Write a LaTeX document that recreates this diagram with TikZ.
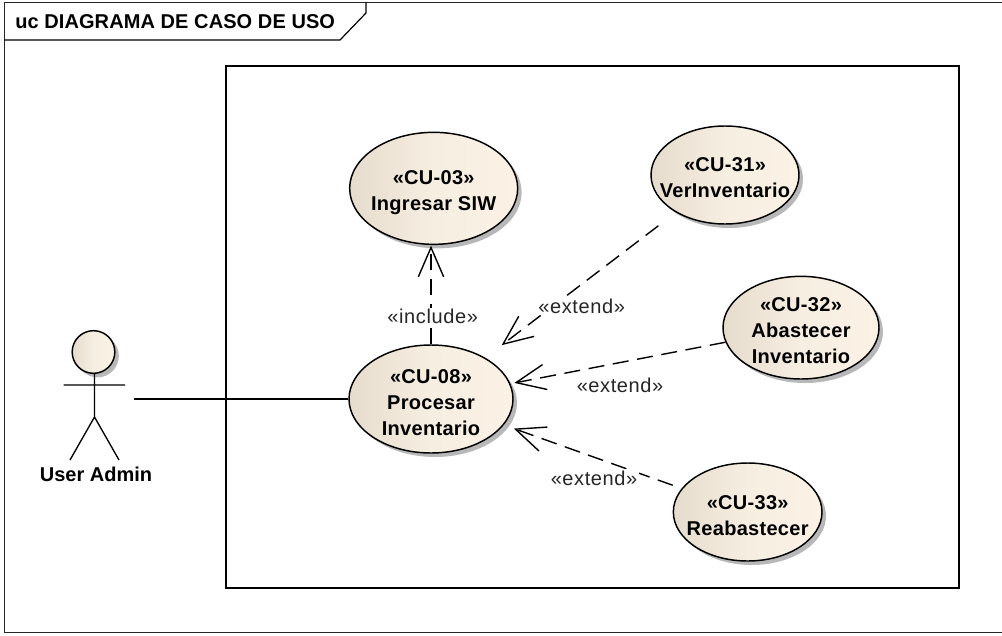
\documentclass[tikz,border=0pt]{standalone}
\usepackage{fontspec}
\setmainfont{Liberation Sans}
\usetikzlibrary{arrows.meta,shapes.geometric,shadows}
\tikzset{
    usecase/.style={ellipse, draw, line width=1.1pt, inner sep=0pt, left color=caseleft, right color=caseright,
        shading angle=90, middle color=casemid, drop shadow={shadow xshift=3pt, shadow yshift=-3pt, fill=black!28, opacity=1}},
    casetext/.style={align=center, inner sep=0pt, font=\fontsize{15}{19.5}\bfseries\selectfont\addfontfeature{LetterSpace=1.5}},
    stereo/.style={fill=white, inner sep=1pt, text=black!85, font=\fontsize{15}{18}\selectfont\addfontfeature{LetterSpace=3}},
    dep/.style={dash pattern=on 12pt off 6.5pt, line width=1.05pt,
        -{Straight Barb[length=22pt,width=19pt,line width=1.05pt]}},
}
\definecolor{caseleft}{HTML}{E6DCCD}
\definecolor{casemid}{HTML}{F6EEE1}
\definecolor{caseright}{HTML}{FBF2E5}
\begin{document}
\begin{tikzpicture}[x=0.75pt, y=-0.75pt, node distance=150pt]
    \useasboundingbox (0,0) rectangle (1002,635);
    % frame
    \draw [line width=1.1pt, black!85] (1010,2.5) -- (4.5,2.5) -- (4.5,632.5) -- (1010,632.5);
    \draw [line width=0.9pt] (4.5,40) -- (340,40) -- (366,13) -- (366,2.5);
    \node (title) [anchor=base west, inner sep=0pt, font=\fontsize{15}{18}\bfseries\selectfont\addfontfeature{LetterSpace=0.5}] at (15,29) {uc DIAGRAMA DE CASO DE USO};
    \draw [line width=1.5pt] (226,66) rectangle (958.5,588);

    % use cases
    \node (cu08) [usecase, minimum width=123pt, minimum height=81pt,
        label={[casetext, yshift=-2.5pt]center:{«CU-08»\\Procesar\\Inventario}}] at (431,399) {};
    \node (cu03) [usecase, minimum width=126pt, minimum height=84pt, above of=cu08, node distance=158pt, xshift=2pt,
        label={[casetext, yshift=-3.2pt]center:{«CU-03»\\Ingresar SIW}}] {};
    \node (cu31) [usecase, minimum width=111pt, minimum height=73.5pt, right of=cu08, node distance=220.5pt, yshift=168pt,
        label={[casetext, yshift=-2pt]center:{«CU-31»\\VerInventario}}] {};
    \node (cu32) [usecase, minimum width=117pt, minimum height=77pt, right of=cu08, node distance=277.5pt, yshift=53.5pt,
        label={[casetext, yshift=-2.5pt]center:{«CU-32»\\Abastecer\\Inventario}}] {};
    \node (cu33) [usecase, minimum width=111.5pt, minimum height=73.5pt, right of=cu08, node distance=237.5pt, yshift=-84.75pt,
        label={[casetext, yshift=-3pt]center:{«CU-33»\\Reabastecer}}] {};

    % actor
    \node (head) [usecase, circle, minimum size=32pt] at (93.5,352) {};
    \node (admin) [minimum width=59pt, minimum height=100pt, inner sep=0pt] at (94,399) {};
    \node (name) [inner sep=0pt, font=\fontsize{15}{18}\bfseries\selectfont] at (96,474) {User Admin};
    \coordinate (hip) at (94.5,417);
    \coordinate (armL) at (63.5,385);
    \coordinate (armR) at (125,385);
    \coordinate (legL) at (70,460);
    \coordinate (legR) at (119,460);
    \draw [line width=1pt] (head.south) ++(1,0) -- (hip) -- (legL) (hip) -- (legR) (armL) -- (armR);

    % connectors
    \path [line width=1.1pt] (admin) edge (cu08);
    \path (cu08.north) edge [dep, shorten >=0.5pt] (cu08.north |- cu03.south);
    \path (cu31) edge [dep, shorten <=16.5pt, shorten >=15.5pt] (cu08)
          (cu32) edge [dep, shorten >=3pt] (cu08)
          (cu33) edge [dep, shorten <=7pt, shorten >=8pt] (cu08);

    % labels
    \node (inc) [stereo] at (432.7,316.7) {«include»};
    \node (ext31) [stereo] at (581.7,306.7) {«extend»};
    \node (ext32) [stereo] at (620,385) {«extend»};
    \node (ext33) [stereo] at (594,478) {«extend»};
\end{tikzpicture}
\end{document}
